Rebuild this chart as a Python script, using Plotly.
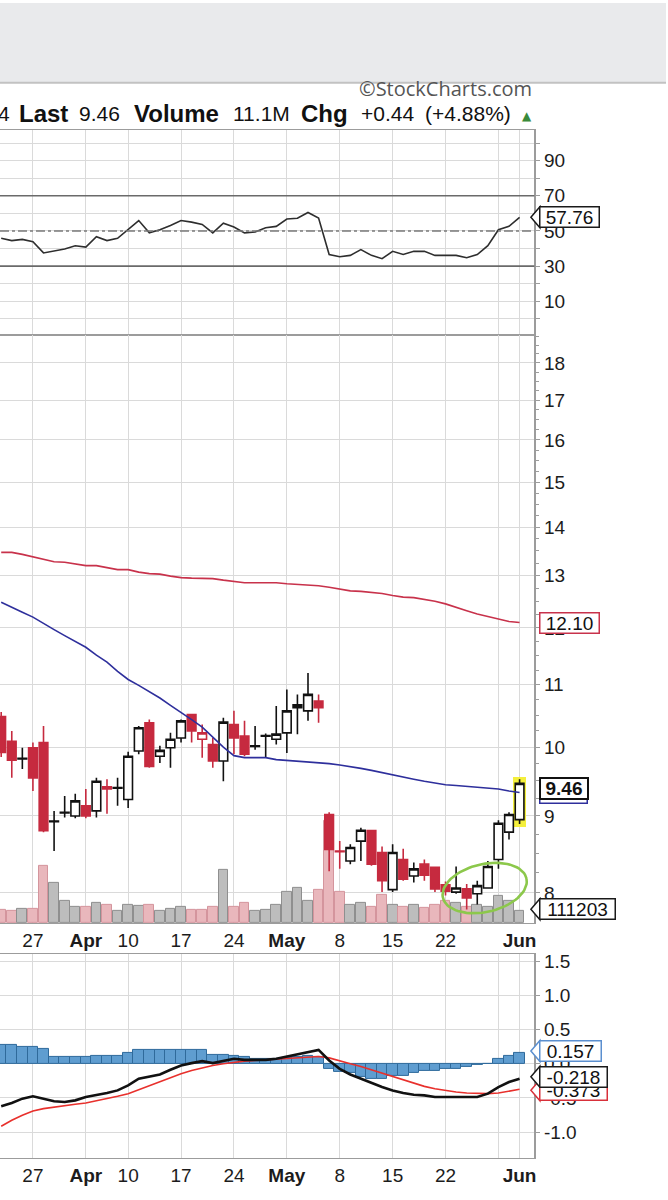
import numpy as np
import pandas as pd
import plotly.graph_objects as go

# ---------------- data ----------------
dates = pd.bdate_range("2023-03-22", "2023-06-01", freq="C",
                       holidays=["2023-04-07", "2023-05-29"]).strftime("%Y-%m-%d").tolist()

open_ = [10.48, 10.09, 9.83, 9.99, 10.07, 8.92, 9.04, 9.00, 9.14, 9.07,
         9.41, 9.39, 9.23, 9.94, 10.38, 9.86, 9.99, 10.14, 10.51, 10.12,
         10.04, 9.79, 10.35, 10.17, 10.01, 10.17, 10.12, 10.22, 10.67, 10.57,
         10.73, 9.02, 8.53, 8.40, 8.66, 8.80, 8.51, 8.04, 8.42, 8.21,
         8.36, 8.32, 8.10, 8.01, 8.05, 7.99, 8.06, 8.42, 8.78, 8.95]
high = [10.55, 10.25, 9.99, 10.07, 10.33, 9.07, 9.28, 9.31, 9.38, 9.54,
        9.52, 9.54, 9.93, 10.33, 10.43, 10.02, 10.22, 10.43, 10.51, 10.35,
        10.14, 10.46, 10.57, 10.41, 10.33, 10.21, 10.65, 10.92, 10.84, 11.20,
        10.84, 9.05, 8.66, 8.62, 8.84, 8.81, 8.59, 8.62, 8.56, 8.38,
        8.42, 8.33, 8.14, 8.33, 8.11, 8.15, 8.40, 8.94, 9.05, 9.52]
low = [9.85, 9.54, 9.67, 9.35, 8.78, 8.53, 8.98, 8.97, 8.97, 8.98,
       9.03, 9.14, 9.11, 9.89, 9.69, 9.76, 9.69, 10.07, 10.07, 9.84,
       9.69, 9.49, 9.89, 9.86, 9.96, 9.84, 10.04, 9.91, 10.20, 10.41,
       10.38, 8.27, 8.30, 8.36, 8.40, 8.34, 8.01, 8.01, 8.15, 8.13,
       8.15, 8.01, 7.97, 7.99, 7.80, 7.86, 8.06, 8.30, 8.68, 8.89]
close = [9.92, 9.80, 9.82, 9.54, 8.80, 8.93, 9.05, 9.21, 9.00, 9.49,
         9.38, 9.40, 9.86, 10.30, 9.71, 9.95, 10.12, 10.41, 10.25, 10.22,
         9.79, 10.39, 10.14, 9.89, 10.02, 10.18, 10.20, 10.57, 10.62, 10.84,
         10.62, 8.55, 8.52, 8.575, 8.805, 8.36, 8.15, 8.51, 8.17, 8.30,
         8.22, 8.05, 8.02, 8.06, 7.94, 8.09, 8.33, 8.90, 9.02, 9.46]
volume_m = [12.7, 11.1, 13.6, 13.6, 52.7, 37.3, 21.0, 14.8, 14.8, 18.8,
            16.7, 11.1, 17.3, 15.7, 17.3, 11.1, 13.6, 14.8, 12.7, 12.7,
            14.8, 49.0, 14.8, 18.8, 11.1, 12.7, 17.3, 29.0, 32.7, 21.0,
            31.2, 95.0, 29.0, 17.3, 18.8, 14.8, 26.5, 17.3, 14.8, 17.3,
            14.2, 17.3, 21.0, 18.8, 14.8, 17.3, 14.8, 25.0, 20.4, 11.1]
sma50 = [12.48, 12.38, 12.29, 12.20, 12.08, 11.97, 11.86, 11.76, 11.65, 11.51,
         11.39, 11.23, 11.09, 10.99, 10.89, 10.78, 10.66, 10.55, 10.43, 10.31,
         10.15, 10.00, 9.87, 9.84, 9.84, 9.84, 9.81, 9.80, 9.79, 9.78,
         9.76, 9.75, 9.73, 9.71, 9.68, 9.65, 9.62, 9.58, 9.55, 9.52,
         9.49, 9.46, 9.44, 9.43, 9.42, 9.41, 9.40, 9.38, 9.35, 9.33]
sma200 = [13.47, 13.47, 13.43, 13.38, 13.33, 13.28, 13.27, 13.23, 13.20, 13.20,
          13.16, 13.12, 13.12, 13.07, 13.04, 13.03, 12.99, 12.96, 12.95, 12.94,
          12.94, 12.91, 12.89, 12.86, 12.86, 12.86, 12.86, 12.84, 12.83, 12.82,
          12.80, 12.77, 12.73, 12.70, 12.69, 12.67, 12.65, 12.61, 12.58, 12.57,
          12.54, 12.50, 12.45, 12.38, 12.32, 12.26, 12.21, 12.17, 12.12, 12.10]
rsi = [45.8, 44.5, 45.2, 43.9, 37.5, 38.4, 39.7, 41.6, 40.8, 46.7,
       44.5, 45.8, 50.7, 55.9, 48.9, 50.7, 53.1, 55.9, 55.0, 53.7,
       48.9, 54.4, 52.2, 48.9, 49.4, 51.8, 52.6, 56.8, 57.2, 60.5,
       57.3, 36.6, 35.3, 36.1, 39.4, 36.1, 34.2, 38.4, 36.6, 38.4,
       38.4, 36.1, 36.1, 36.1, 34.8, 36.6, 41.6, 50.7, 52.6, 57.76]
macd = [-0.622, -0.573, -0.510, -0.476, -0.510, -0.549, -0.559, -0.535, -0.486, -0.462,
        -0.428, -0.389, -0.316, -0.219, -0.185, -0.156, -0.087, -0.024, 0.010, 0.039,
        0.010, 0.039, 0.073, 0.058, 0.058, 0.058, 0.073, 0.107, 0.136, 0.170,
        0.204, 0.049, -0.073, -0.156, -0.219, -0.282, -0.340, -0.389, -0.428, -0.452,
        -0.462, -0.486, -0.486, -0.486, -0.486, -0.486, -0.437, -0.340, -0.267, -0.218]
signal = [-0.914, -0.826, -0.753, -0.690, -0.656, -0.632, -0.608, -0.593, -0.574, -0.545,
          -0.510, -0.476, -0.437, -0.379, -0.316, -0.253, -0.194, -0.146, -0.097, -0.058,
          -0.024, 0.000, 0.024, 0.039, 0.049, 0.058, 0.063, 0.073, 0.087, 0.097,
          0.107, 0.087, 0.039, 0.000, -0.039, -0.087, -0.136, -0.185, -0.233, -0.282,
          -0.330, -0.364, -0.389, -0.413, -0.428, -0.437, -0.437, -0.428, -0.399, -0.373]
hist = [0.28, 0.28, 0.25, 0.25, 0.22, 0.10, 0.10, 0.10, 0.10, 0.12,
        0.12, 0.12, 0.155, 0.20, 0.20, 0.20, 0.20, 0.20, 0.20, 0.20,
        0.136, 0.136, 0.12, 0.10, 0.07, 0.07, 0.07, 0.09, 0.10, 0.11,
        0.10, -0.07, -0.12, -0.14, -0.19, -0.22, -0.22, -0.18, -0.17, -0.14,
        -0.11, -0.10, -0.07, -0.07, -0.05, -0.02, -0.005, 0.07, 0.11, 0.157]

tick_dates = ["2023-03-27", "2023-04-03", "2023-04-10", "2023-04-17", "2023-04-24",
              "2023-05-01", "2023-05-08", "2023-05-15", "2023-05-22", "2023-05-30", "2023-06-01"]
tick_text = ["27", "<b>Apr</b>", "10", "17", "24", "<b>May</b>", "8", "15", "22", "", "<b>Jun</b>"]

# ---------------- layout helpers ----------------
W, H = 668, 1200
def px(x):
    return x / W
def py(y):
    return 1 - y / H

X_R = px(536)
X_RANGE = [-0.113, 50.4]
P_RANGE = [np.log10(7.638), np.log10(18.79)]
P_TOP, P_BOT = 332.7, 922.5
pos = list(range(len(dates)))
tickvals = [dates.index(d) for d in tick_dates]

RED = "#c62a3f"
GRID = "#dadada"
AXL = "#9c9c9c"
FONT = "Liberation Sans, Arial, sans-serif"
TICKFONT = dict(family=FONT, size=19, color="#1c1c1c")

prev_close = [open_[0]] + close[:-1]
is_up = [c >= p for c, p in zip(close, prev_close)]

fig = go.Figure()

# ---------- RSI ----------
fig.add_trace(go.Scatter(x=pos, y=rsi, mode="lines", line=dict(color="#2e2e2e", width=1.6),
                         xaxis="x", yaxis="y", hoverinfo="skip"))

# ---------- Volume (base axis of price panel) ----------
fig.add_trace(go.Bar(x=pos, y=volume_m, xaxis="x2", yaxis="y2", width=0.92,
                     marker=dict(color=["#bdbdbd" if u else "#e9b7bc" for u in is_up],
                                 line=dict(color=["#8f8f8f" if u else "#d4959d" for u in is_up], width=1)),
                     hoverinfo="skip"))

# ---------- highlight of the latest bar (bar layer sits under the candles) ----------
hy0, hy1 = low[-1] * 0.995, high[-1] * 1.003
fig.add_trace(go.Bar(x=[pos[-1]], y=[hy1 - hy0], base=[hy0], width=1.28,
                     marker=dict(color="#f4ef3c", line=dict(width=0)),
                     xaxis="x2", yaxis="y3", hoverinfo="skip"))

# ---------- Moving averages ----------
fig.add_trace(go.Scatter(x=pos, y=sma200, mode="lines", line=dict(color="#c8324b", width=1.6),
                         xaxis="x2", yaxis="y3", hoverinfo="skip"))
fig.add_trace(go.Scatter(x=pos, y=sma50, mode="lines", line=dict(color="#2e2f9c", width=1.6),
                         xaxis="x2", yaxis="y3", hoverinfo="skip"))

# ---------- Candles (split by close vs previous close) ----------
for up in (True, False):
    idx = [i for i in pos if is_up[i] == up]
    col = "#111111" if up else RED
    fig.add_trace(go.Candlestick(
        x=[pos[i] for i in idx], open=[open_[i] for i in idx], high=[high[i] for i in idx],
        low=[low[i] for i in idx], close=[close[i] for i in idx],
        xaxis="x2", yaxis="y3",
        increasing=dict(line=dict(color=col, width=1.6), fillcolor="white"),
        decreasing=dict(line=dict(color=col, width=1.6), fillcolor=col),
        whiskerwidth=0, hoverinfo="skip", showlegend=False))

# ---------- green ellipse drawn around the late-May base ----------
px_per_x = 536 / (X_RANGE[1] - X_RANGE[0])
px_per_dec = (P_BOT - P_TOP) / (P_RANGE[1] - P_RANGE[0])
t = np.linspace(0, 2 * np.pi, 80)
a, b, th = 43, 24, np.deg2rad(13)
ex = a * np.cos(t) * np.cos(th) - b * np.sin(t) * np.sin(th)
ey = a * np.cos(t) * np.sin(th) + b * np.sin(t) * np.cos(th)
fig.add_trace(go.Scatter(x=45.7 + ex / px_per_x, y=10 ** (np.log10(8.06) + ey / px_per_dec),
                         mode="lines", line=dict(color="#8cc84b", width=2.6),
                         xaxis="x2", yaxis="y3", hoverinfo="skip"))

# ---------- MACD ----------
fig.add_trace(go.Bar(x=pos, y=hist, xaxis="x3", yaxis="y4", width=1.0,
                     marker=dict(color="#5f9dd0", line=dict(color="#2f6a9b", width=1)),
                     hoverinfo="skip"))
fig.add_trace(go.Scatter(x=pos, y=signal, mode="lines", line=dict(color="#e8302c", width=1.6),
                         xaxis="x3", yaxis="y4", hoverinfo="skip"))
fig.add_trace(go.Scatter(x=pos, y=macd, mode="lines", line=dict(color="#111111", width=2.6),
                         xaxis="x3", yaxis="y4", hoverinfo="skip"))

shapes = []
annotations = []

# top grey band
shapes.append(dict(type="rect", xref="paper", yref="paper", x0=0, x1=1, y0=py(80), y1=1,
                   fillcolor="#e9eaec", line=dict(width=0), layer="below"))
shapes.append(dict(type="line", xref="paper", yref="paper", x0=0, x1=1, y0=py(80), y1=py(80),
                   line=dict(color="#c2c2c2", width=2)))

# RSI reference lines
for lvl in (70, 30):
    shapes.append(dict(type="line", xref="paper", yref="y", x0=0, x1=X_R, y0=lvl, y1=lvl,
                       line=dict(color="#6a6a6a", width=1.6)))
shapes.append(dict(type="line", xref="paper", yref="y", x0=0, x1=X_R, y0=50, y1=50,
                   line=dict(color="#7a7a7a", width=1.6, dash="dashdot")))


def value_box(yref, yval, text, color, width, dy=0, bold=False, bw=1.5):
    h = 10.5
    notch = f"M 5.5,{dy + h} L -3.5,{dy} L 5.5,{dy - h} Z"
    shapes.append(dict(type="path", xref="paper", yref=yref, xsizemode="pixel", ysizemode="pixel",
                       xanchor=X_R, yanchor=yval, path=notch, fillcolor="white",
                       line=dict(color=color, width=bw)))
    annotations.append(dict(xref="paper", x=px(541), xanchor="left", yref=yref, y=yval,
                            yanchor="middle", yshift=dy, showarrow=False,
                            text=f"<b>{text}</b>" if bold else text,
                            font=dict(family=FONT, size=19, color="#111111"),
                            bgcolor="white", bordercolor=color, borderwidth=bw, borderpad=0,
                            width=width, height=19, align="center"))


value_box("y", rsi[-1], f"{rsi[-1]:.2f}", "#1a1a1a", 58)
value_box("y3", np.log10(sma200[-1]), f"{sma200[-1]:.2f}", "#c8324b", 58)
value_box("y3", np.log10(sma50[-1]), f"{sma50[-1]:.2f}", "#2e2f9c", 46, dy=-1)
value_box("y3", np.log10(close[-1]), f"{close[-1]:.2f}", "#111111", 46, dy=-5, bold=True, bw=2)
value_box("y2", volume_m[-1], "111203", "#1a1a1a", 74, dy=2)
value_box("y4", hist[-1], f"{hist[-1]:.3f}", "#5b8fcf", 60, dy=2)
value_box("y4", signal[-1], f"{signal[-1]:.3f}", "#d8303a", 66, dy=-1)
value_box("y4", macd[-1], f"{macd[-1]:.3f}", "#1a1a1a", 66, dy=2)

# header text
hdr_y = py(111)
tokens = [("4", -4, False), ("Last", 17, True), ("9.46", 77, False), ("Volume", 132, True),
          ("11.1M", 232, False), ("Chg", 300, True), ("+0.44", 360, False), ("(+4.88%)", 424, False)]
for txt, x0, bold in tokens:
    annotations.append(dict(xref="paper", yref="paper", x=px(x0), y=hdr_y, xanchor="left",
                            yanchor="middle", showarrow=False,
                            text=f"<b>{txt}</b>" if bold else txt,
                            font=dict(family=FONT, size=24 if bold else 21, color="#111111")))
annotations.append(dict(xref="paper", yref="paper", x=px(536), y=py(113), xanchor="right",
                        yanchor="middle", showarrow=False, text="▲",
                        font=dict(family="DejaVu Sans", size=12, color="#3a8a3a")))
annotations.append(dict(xref="paper", yref="paper", x=px(536), y=py(86), xanchor="right",
                        yanchor="middle", showarrow=False, text="©StockCharts.com",
                        font=dict(family="Open Sans, Lato, sans-serif", size=20, color="#555555")))

xcommon = dict(range=X_RANGE, tickvals=tickvals, ticktext=tick_text, showgrid=True,
               gridcolor=GRID, gridwidth=1, showline=True, linecolor=AXL, linewidth=1,
               mirror=True, zeroline=False, ticks="", tickfont=TICKFONT,
               domain=[0, X_R], fixedrange=True)
ycommon = dict(side="right", showline=True, linecolor=AXL, linewidth=1.5, ticks="outside",
               ticklen=4, tickcolor=AXL, tickfont=TICKFONT, gridcolor=GRID, zeroline=False,
               fixedrange=True)

fig.update_layout(
    width=W, height=H, margin=dict(l=0, r=0, t=0, b=0),
    paper_bgcolor="white", plot_bgcolor="white", showlegend=False,
    boxgap=0.18, boxgroupgap=0, bargap=0, barmode="overlay",
    xaxis=dict(**xcommon, anchor="y", showticklabels=False),
    xaxis2=dict(**xcommon, anchor="y2", matches="x", showticklabels=True,
                rangeslider=dict(visible=False)),
    xaxis3=dict(**xcommon, anchor="y4", matches="x", showticklabels=True),
    yaxis=dict(**ycommon, domain=[py(332.7), py(127.5)], range=[-9.1, 107.3], anchor="x",
               tickvals=list(range(0, 101, 10)),
               ticktext=["" if v % 20 == 0 else str(v) for v in range(0, 101, 10)]),
    yaxis2=dict(domain=[py(P_BOT), py(P_TOP)], range=[0, 545], anchor="x2", showgrid=False,
                showticklabels=False, zeroline=False, showline=False, fixedrange=True),
    yaxis3=dict(**ycommon, overlaying="y2", anchor="x2", type="log",
                range=P_RANGE, tickvals=list(range(8, 19)),
                ticktext=[str(v) for v in range(8, 19)],
                minor=dict(tickvals=[v + f for v in range(7, 19) for f in (0.25, 0.5, 0.75)],
                           ticks="outside", ticklen=3, tickcolor=AXL, showgrid=False)),
    yaxis4=dict(**ycommon, domain=[py(1158), py(953.3)], range=[-1.38, 1.608], anchor="x3",
                tickvals=[-1.0, -0.5, 0.0, 0.5, 1.0, 1.5],
                ticktext=["-1.0", "-0.5", "0.0", "0.5", "1.0", "1.5"]),
    shapes=shapes, annotations=annotations,
)

fig.write_html("out.html")
